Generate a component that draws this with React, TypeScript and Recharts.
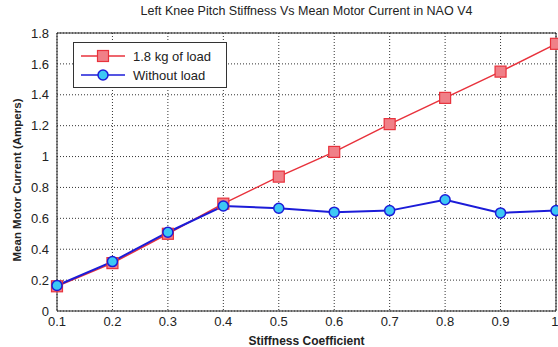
import { LineChart, Line, XAxis, YAxis, CartesianGrid, ReferenceArea } from "recharts";

const stiffness = [0.1, 0.2, 0.3, 0.4, 0.5, 0.6, 0.7, 0.8, 0.9, 1.0];
const withLoad = [0.16, 0.31, 0.5, 0.695, 0.87, 1.03, 1.21, 1.38, 1.55, 1.73];
const withoutLoad = [0.165, 0.32, 0.51, 0.68, 0.665, 0.64, 0.65, 0.72, 0.635, 0.65];
const xTicks = [0.1, 0.2, 0.3, 0.4, 0.5, 0.6, 0.7, 0.8, 0.9, 1];
const yTicks = [0, 0.2, 0.4, 0.6, 0.8, 1, 1.2, 1.4, 1.6, 1.8];

const data = stiffness.map((s, i) => ({ s, load: withLoad[i], noLoad: withoutLoad[i] }));

const FONT = "'Liberation Sans', Arial, sans-serif";
const RED = "#e8323c";
const BLUE = "#1c1cd8";

function SquareDot(props: any) {
  const { cx, cy } = props;
  if (cx == null || cy == null) return null;
  return <rect x={cx - 5.5} y={cy - 5.5} width={11} height={11} fill="#f08088" stroke={RED} strokeWidth={1.2} />;
}

function CircleDot(props: any) {
  const { cx, cy } = props;
  if (cx == null || cy == null) return null;
  return <circle cx={cx} cy={cy} r={5} fill="#3cc8f4" stroke={BLUE} strokeWidth={1.5} />;
}

// legend drawn as an overlay so it doesn't eat into the plot margins
function LegendBox() {
  return (
    <svg width={154} height={46} style={{ position: "absolute", left: 73, top: 42 }}>
      <rect x={0.5} y={0.5} width={153} height={45} fill="#fff" stroke="#333" strokeWidth={1} />
      <line x1={8} y1={14} x2={52} y2={14} stroke={RED} strokeWidth={1.5} />
      <rect x={24.5} y={8.5} width={11} height={11} fill="#f08088" stroke={RED} strokeWidth={1.2} />
      <text x={60} y={18.5} fontSize={13} fontFamily={FONT} fill="#222">1.8 kg of load</text>
      <line x1={8} y1={33} x2={52} y2={33} stroke={BLUE} strokeWidth={1.5} />
      <circle cx={30} cy={33} r={5} fill="#3cc8f4" stroke={BLUE} strokeWidth={1.5} />
      <text x={60} y={37.5} fontSize={13} fontFamily={FONT} fill="#222">Without load</text>
    </svg>
  );
}

export default function App() {
  return (
    <div style={{ position: "absolute", left: 0, top: 0, width: 558, height: 347, background: "#fff" }}>
      <div
        style={{
          position: "absolute",
          top: 4,
          left: 57,
          width: 499,
          textAlign: "center",
          fontFamily: FONT,
          fontSize: 12.5,
          color: "#222",
        }}
      >
        Left Knee Pitch Stiffness Vs Mean Motor Current in NAO V4
      </div>
      <LineChart width={558} height={347} data={data} margin={{ top: 33, right: 2, bottom: 0, left: 0 }}>
        <CartesianGrid stroke="#333" strokeDasharray="1 2" />
        <XAxis
          dataKey="s"
          type="number"
          domain={[0.1, 1]}
          ticks={xTicks}
          tickFormatter={(v: number) => String(Math.round(v * 10) / 10)}
          height={36}
          tickLine={false}
          axisLine={false}
          tick={{ fontFamily: FONT, fontSize: 13, fill: "#222" }}
          tickMargin={0}
          label={{
            value: "Stiffness Coefficient",
            position: "insideBottom",
            offset: 2,
            style: { fontFamily: FONT, fontSize: 12, fontWeight: "bold", fill: "#222" },
          }}
        />
        <YAxis
          type="number"
          domain={[0, 1.8]}
          ticks={yTicks}
          tickFormatter={(v: number) => String(Math.round(v * 10) / 10)}
          width={57}
          tickLine={false}
          axisLine={false}
          tick={{ fontFamily: FONT, fontSize: 13, fill: "#222" }}
          tickMargin={2}
          label={{
            value: "Mean Motor Current (Ampers)",
            angle: -90,
            position: "insideLeft",
            offset: 17,
            dy: 8,
            style: { textAnchor: "middle", fontFamily: FONT, fontSize: 11.5, fontWeight: "bold", fill: "#222" },
          }}
        />
        <ReferenceArea x1={0.1} x2={1} y1={0} y2={1.8} fill="none" stroke="#222" strokeWidth={1} ifOverflow="visible" />
        <Line
          dataKey="load"
          name="1.8 kg of load"
          stroke={RED}
          strokeWidth={1.5}
          dot={<SquareDot />}
          activeDot={false}
          isAnimationActive={false}
        />
        <Line
          dataKey="noLoad"
          name="Without load"
          stroke={BLUE}
          strokeWidth={2}
          dot={<CircleDot />}
          activeDot={false}
          isAnimationActive={false}
        />
      </LineChart>
      <LegendBox />
    </div>
  );
}
